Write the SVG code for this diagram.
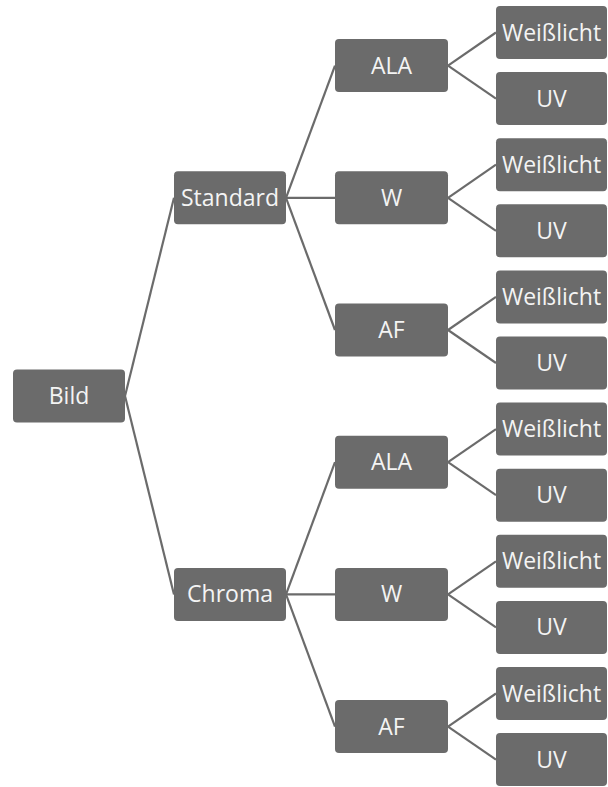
<svg xmlns="http://www.w3.org/2000/svg" width="608" height="787" viewBox="0 0 608 787">
<style>
.n rect{fill:#6b6b6b;}
.n text{fill:#f4f4f4;font-family:"Open Sans","DejaVu Sans",sans-serif;font-size:23px;text-anchor:middle;}
.c line{stroke:#6b6b6b;stroke-width:2.2;}
</style>
<rect width="608" height="787" fill="#ffffff"/>
<g class="c">
<line x1="125" y1="396" x2="174" y2="197.8"/>
<line x1="125" y1="396" x2="174" y2="594.4"/>
<line x1="286" y1="197.8" x2="335" y2="65.6"/>
<line x1="286" y1="197.8" x2="335" y2="197.8"/>
<line x1="286" y1="197.8" x2="335" y2="330"/>
<line x1="286" y1="594.4" x2="335" y2="462.2"/>
<line x1="286" y1="594.4" x2="335" y2="594.4"/>
<line x1="286" y1="594.4" x2="335" y2="726.6"/>
<line x1="448" y1="65.6" x2="496" y2="32.5"/>
<line x1="448" y1="65.6" x2="496" y2="98.6"/>
<line x1="448" y1="197.8" x2="496" y2="164.7"/>
<line x1="448" y1="197.8" x2="496" y2="230.8"/>
<line x1="448" y1="330" x2="496" y2="296.9"/>
<line x1="448" y1="330" x2="496" y2="363"/>
<line x1="448" y1="462.2" x2="496" y2="429.1"/>
<line x1="448" y1="462.2" x2="496" y2="495.2"/>
<line x1="448" y1="594.4" x2="496" y2="561.3"/>
<line x1="448" y1="594.4" x2="496" y2="627.4"/>
<line x1="448" y1="726.6" x2="496" y2="693.5"/>
<line x1="448" y1="726.6" x2="496" y2="759.6"/>
</g>
<g id="bild" class="n"><rect x="13" y="369.5" width="112" height="53" rx="4"/><text x="69" y="404">Bild</text></g>
<g id="standard" class="n"><rect x="174" y="171.3" width="112" height="53" rx="4"/><text x="230" y="205.8">Standard</text></g>
<g id="chroma" class="n"><rect x="174" y="567.9" width="112" height="53" rx="4"/><text x="230" y="602.4">Chroma</text></g>
<g id="s-ala" class="n"><rect x="335" y="39.1" width="113" height="53" rx="4"/><text x="391.5" y="73.6">ALA</text></g>
<g id="s-w" class="n"><rect x="335" y="171.3" width="113" height="53" rx="4"/><text x="391.5" y="205.8">W</text></g>
<g id="s-af" class="n"><rect x="335" y="303.5" width="113" height="53" rx="4"/><text x="391.5" y="338">AF</text></g>
<g id="c-ala" class="n"><rect x="335" y="435.7" width="113" height="53" rx="4"/><text x="391.5" y="470.2">ALA</text></g>
<g id="c-w" class="n"><rect x="335" y="567.9" width="113" height="53" rx="4"/><text x="391.5" y="602.4">W</text></g>
<g id="c-af" class="n"><rect x="335" y="700.1" width="113" height="53" rx="4"/><text x="391.5" y="734.6">AF</text></g>
<g id="l0" class="n"><rect x="496" y="6" width="111" height="53" rx="4"/><text x="551.5" y="40.5">Weißlicht</text></g>
<g id="l1" class="n"><rect x="496" y="72.1" width="111" height="53" rx="4"/><text x="551.5" y="106.6">UV</text></g>
<g id="l2" class="n"><rect x="496" y="138.2" width="111" height="53" rx="4"/><text x="551.5" y="172.7">Weißlicht</text></g>
<g id="l3" class="n"><rect x="496" y="204.3" width="111" height="53" rx="4"/><text x="551.5" y="238.8">UV</text></g>
<g id="l4" class="n"><rect x="496" y="270.4" width="111" height="53" rx="4"/><text x="551.5" y="304.9">Weißlicht</text></g>
<g id="l5" class="n"><rect x="496" y="336.5" width="111" height="53" rx="4"/><text x="551.5" y="371">UV</text></g>
<g id="l6" class="n"><rect x="496" y="402.6" width="111" height="53" rx="4"/><text x="551.5" y="437.1">Weißlicht</text></g>
<g id="l7" class="n"><rect x="496" y="468.7" width="111" height="53" rx="4"/><text x="551.5" y="503.2">UV</text></g>
<g id="l8" class="n"><rect x="496" y="534.8" width="111" height="53" rx="4"/><text x="551.5" y="569.3">Weißlicht</text></g>
<g id="l9" class="n"><rect x="496" y="600.9" width="111" height="53" rx="4"/><text x="551.5" y="635.4">UV</text></g>
<g id="l10" class="n"><rect x="496" y="667" width="111" height="53" rx="4"/><text x="551.5" y="701.5">Weißlicht</text></g>
<g id="l11" class="n"><rect x="496" y="733.1" width="111" height="53" rx="4"/><text x="551.5" y="767.6">UV</text></g>
</svg>
